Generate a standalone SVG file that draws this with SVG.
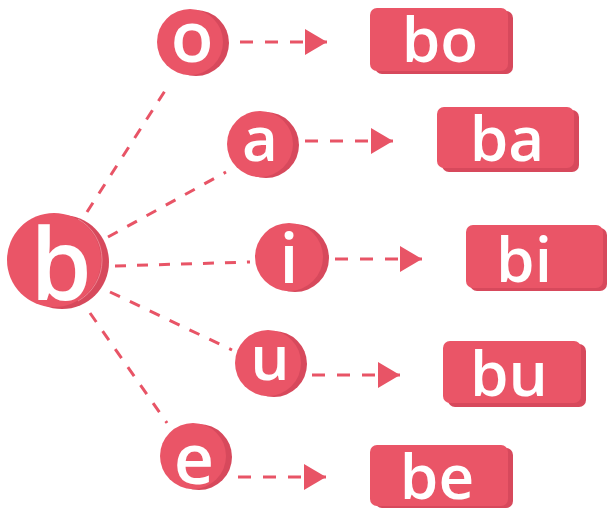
<svg xmlns="http://www.w3.org/2000/svg" width="607" height="508" viewBox="0 0 607 508">
<defs>
<style>
.face{fill:#EA5567}
.side{fill:#D7495C}
.hl{fill:none;stroke:#F3909C;stroke-width:0.8}
.t{fill:#fff;font-family:"Open Sans","Liberation Sans",sans-serif;font-weight:600;text-anchor:middle}
.conn{stroke:#E85466;stroke-width:3;fill:none;stroke-dasharray:11 11}
.arr{stroke:#E85466;stroke-width:3;fill:none;stroke-dasharray:13 12}
</style>
<marker id="ah" markerUnits="userSpaceOnUse" markerWidth="24" markerHeight="28" refX="22" refY="13" orient="auto">
<path d="M0,0 L22,13 L0,26 Z" fill="#E85466"/>
</marker>
</defs>
<rect width="607" height="508" fill="#fff"/>
<g id="connectors">
<line class="conn" x1="87" y1="212" x2="170" y2="83"/>
<line class="conn" x1="108" y1="237" x2="226" y2="172"/>
<line class="conn" x1="115" y1="266" x2="250" y2="262"/>
<line class="conn" x1="110" y1="292" x2="232" y2="350"/>
<line class="conn" x1="90" y1="313" x2="167" y2="423"/>
<line class="arr" x1="240" y1="42" x2="327" y2="42" marker-end="url(#ah)"/>
<line class="arr" x1="305" y1="141" x2="393" y2="141" marker-end="url(#ah)"/>
<line class="arr" x1="335" y1="259" x2="422" y2="259" marker-end="url(#ah)"/>
<line class="arr" x1="312" y1="375" x2="400" y2="375" marker-end="url(#ah)"/>
<line class="arr" x1="238" y1="477" x2="326" y2="477" marker-end="url(#ah)"/>
</g>
<g id="node-b">
<circle class="side" cx="62" cy="262" r="47"/>
<circle class="face" cx="54" cy="260" r="47"/>
<path class="hl" d="M78,219 A47,47 0 0 1 78,301"/>
<text class="t" x="61" y="300" font-size="99">b</text>
</g>
<g id="node-o">
<circle class="side" cx="196" cy="43" r="33"/>
<circle class="face" cx="190" cy="42" r="33"/>
<text class="t" x="192" y="62" font-size="70">o</text>
</g>
<g id="node-a">
<circle class="side" cx="266" cy="145" r="33"/>
<circle class="face" cx="260" cy="144" r="33"/>
<text class="t" x="260" y="161" font-size="62">a</text>
</g>
<g id="node-i">
<circle class="side" cx="295" cy="258" r="34"/>
<circle class="face" cx="289" cy="257" r="34"/>
<text class="t" x="289" y="283" font-size="68">i</text>
</g>
<g id="node-u">
<circle class="side" cx="274" cy="364" r="33"/>
<circle class="face" cx="268" cy="363" r="33"/>
<text class="t" x="270" y="380" font-size="62">u</text>
</g>
<g id="node-e">
<circle class="side" cx="199" cy="457" r="33"/>
<circle class="face" cx="193" cy="456" r="33"/>
<text class="t" x="194" y="484" font-size="70">e</text>
</g>
<g id="box-bo">
<rect class="side" x="375" y="11" width="138" height="63" rx="7"/>
<rect class="face" x="370" y="8" width="138" height="63" rx="7"/>
<text class="t" x="440" y="62" font-size="62">bo</text>
</g>
<g id="box-ba">
<rect class="side" x="442" y="110" width="137" height="62" rx="7"/>
<rect class="face" x="437" y="107" width="137" height="61" rx="7"/>
<text class="t" x="507" y="161" font-size="62">ba</text>
</g>
<g id="box-bi">
<rect class="side" x="470" y="228" width="137" height="63" rx="7"/>
<rect class="face" x="466" y="225" width="137" height="63" rx="7"/>
<text class="t" x="524" y="282" font-size="62">bi</text>
</g>
<g id="box-bu">
<rect class="side" x="448" y="344" width="138" height="63" rx="7"/>
<rect class="face" x="443" y="341" width="138" height="62" rx="7"/>
<text class="t" x="509" y="396" font-size="62">bu</text>
</g>
<g id="box-be">
<rect class="side" x="375" y="448" width="138" height="60" rx="7"/>
<rect class="face" x="370" y="445" width="138" height="61" rx="7"/>
<text class="t" x="437" y="499" font-size="62">be</text>
</g>
</svg>
